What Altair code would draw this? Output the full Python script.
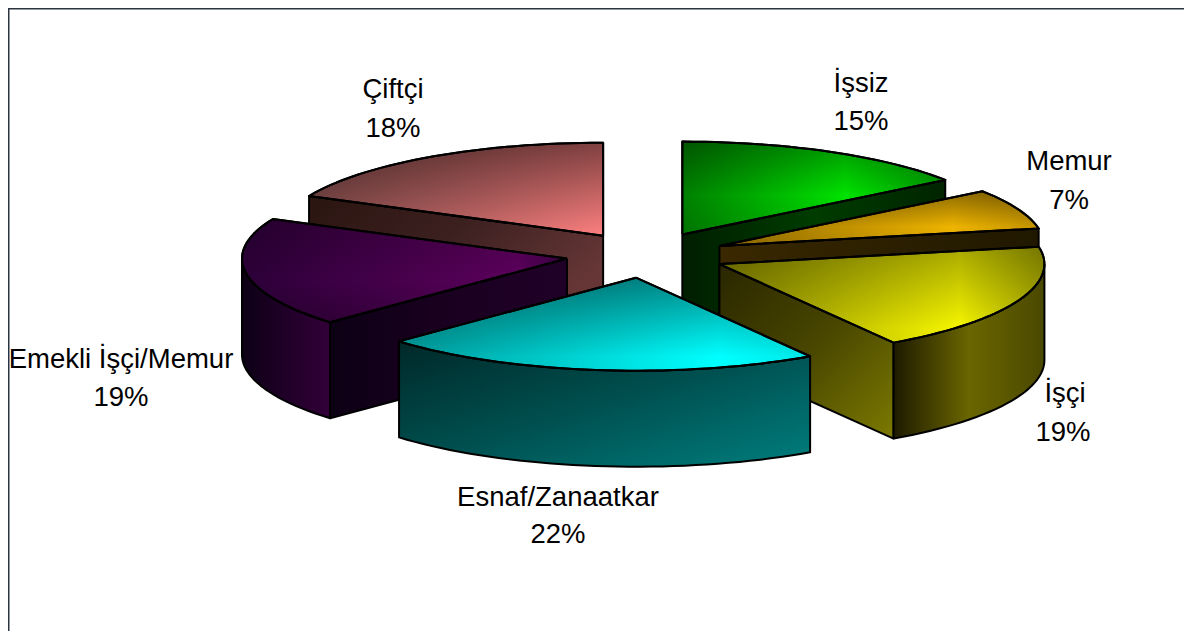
import math
import altair as alt
import pandas as pd

names = ["İşsiz", "Memur", "İşçi", "Esnaf/Zanaatkar", "Emekli İşçi/Memur", "Çiftçi"]
values = [15, 7, 19, 22, 19, 18]
label_x = [861, 1069, 1065, 558, 121, 393]
label_y = [84, 162, 394, 498, 360, 90]
pct_x = [861, 1069, 1063, 558, 121, 393]
pct_y = [122, 201, 433, 535, 398, 129]

# top face: bright spot x, y, inner colour, left colour, right colour, top shade, bottom shade
top_style = [
    (0.62, 0.58, "#00e200", "#008000", "#009c00", 0.34, 0.10),
    (0.73, 0.65, "#eeb400", "#8c6800", "#c49400", 0.42, 0.05),
    (0.74, 0.85, "#f6f600", "#8a8a00", "#acac00", 0.32, 0.00),
    (0.78, 0.85, "#00ffff", "#009c9c", "#00e8e8", 0.45, 0.00),
    (0.85, 0.60, "#5c005c", "#2c0038", "#3c0044", 0.20, 0.20),
    (1.00, 1.00, "#ff8080", "#8a5050", "#ff8080", 0.50, 0.00),
]
# radial wall gradient: stops and direction
wall_style = [
    (("#001e00", "#003c00", "#002400"), 1, 0),
    (("#3a2800", "#2c2000", "#201800"), 1, 0),
    (("#2a2600", "#484600", "#7c7a00"), 1, 1),
    None,
    (("#0c0014", "#1a0020", "#200028"), 1, 0),
    (("#2a1510", "#3c2020", "#663636"), 1, 0.5),
]
# outer wall gradient: stops and direction
outer_style = [
    None,
    None,
    (("#1e1a00", "#6a6600", "#4a4800"), 1, 0),
    (("#002828", "#005050", "#007e7e"), 1, 1),
    (("#0c0014", "#200028", "#320038"), 1, 0),
    None,
]
paint_order = [0, 5, 1, 4, 2, 3]

CX, CY, A, B, H, EXPLODE = 646, 255, 325, 93, 96, 80
total = sum(values)


def polar(ax, ay, deg):
    t = math.radians(deg)
    return ax + A * math.sin(t), ay - B * math.cos(t)


def arc(ax, ay, a0, a1, dy=0):
    n = max(2, int(abs(a1 - a0) / 2) + 1)
    pts = []
    for k in range(n + 1):
        x, y = polar(ax, ay, a0 + (a1 - a0) * k / n)
        pts.append((x, y + dy))
    return pts


def linear(stops, x2=1, y2=0):
    n = len(stops) - 1
    return alt.LinearGradient(
        gradient="linear", x1=0, y1=0, x2=x2, y2=y2,
        stops=[alt.GradientStop(offset=i / n, color=c) for i, c in enumerate(stops)],
    )


def placed(stops, x2, y2):
    return alt.LinearGradient(
        gradient="linear", x1=0, y1=0, x2=x2, y2=y2,
        stops=[alt.GradientStop(offset=o, color=c) for o, c in stops],
    )


xs = alt.Scale(domain=[8, 1184], nice=False, zero=False)
ys = alt.Scale(domain=[631, 8], nice=False, zero=False)


def poly(pts, fill, stroke="black"):
    pts = list(pts) + [pts[0]]
    df = pd.DataFrame({"px": [p[0] for p in pts], "py": [p[1] for p in pts], "i": range(len(pts))})
    return alt.Chart(df).mark_line(
        fill=fill, stroke=stroke, strokeWidth=2, strokeJoin="round", interpolate="linear"
    ).encode(
        x=alt.X("px:Q", scale=xs, axis=None),
        y=alt.Y("py:Q", scale=ys, axis=None),
        order=alt.Order("i:Q"),
    )


starts = []
c = 0
for v in values:
    starts.append(c)
    c += v

layers = []
for s in paint_order:
    a0 = starts[s] / total * 360
    a1 = (starts[s] + values[s]) / total * 360
    mid = math.radians((a0 + a1) / 2)
    ax = CX + EXPLODE * math.sin(mid)
    ay = CY - EXPLODE * B / A * math.cos(mid)
    edge = None
    if a1 <= 180:
        edge = a1
    elif a0 >= 180:
        edge = a0
    if edge is not None and wall_style[s]:
        ex, ey = polar(ax, ay, edge)
        stops, dx, dy = wall_style[s]
        layers.append(poly([(ax, ay), (ex, ey), (ex, ey + H), (ax, ay + H)], linear(stops, dx, dy)))
    lo, hi = max(a0, 90), min(a1, 270)
    if lo < hi and outer_style[s]:
        stops, dx, dy = outer_style[s]
        layers.append(poly(arc(ax, ay, lo, hi) + arc(ax, ay, hi, lo, H), linear(stops, dx, dy)))
    fx, fy, inner, left, right, shade_top, shade_bot = top_style[s]
    face = [(ax, ay)] + arc(ax, ay, a0, a1)
    across = placed([(0, left), (fx, inner), (1, right)], 1, 0)
    down = placed([(0, f"rgba(0,0,0,{shade_top})"), (fy, "rgba(0,0,0,0)"), (1, f"rgba(0,0,0,{shade_bot})")], 0, 1)
    layers.append(poly(face, across))
    layers.append(poly(face, down))

labels = pd.DataFrame({
    "t": names + [f"{v}%" for v in values],
    "px": label_x + pct_x,
    "py": label_y + pct_y,
})
text = alt.Chart(labels).mark_text(
    font="Liberation Sans", fontSize=27.5, color="black", align="center", baseline="middle"
).encode(
    x=alt.X("px:Q", scale=xs, axis=None),
    y=alt.Y("py:Q", scale=ys, axis=None),
    text="t:N",
)

frame_top = alt.Chart(pd.DataFrame({"a": [0]})).mark_rule(color="#2b3440", strokeWidth=3).encode(
    x=alt.value(0), x2=alt.value(1176), y=alt.value(0))
frame_left = alt.Chart(pd.DataFrame({"a": [0]})).mark_rule(color="#2b3440", strokeWidth=3).encode(
    y=alt.value(0), y2=alt.value(623), x=alt.value(0))

chart = alt.layer(*layers, text, frame_top, frame_left).properties(
    width=1176, height=623, padding=0, autosize=alt.AutoSizeParams(type="none"), background="white"
).configure_view(stroke=None)

chart.save("out.html", embed_options={"renderer": "svg", "actions": False})
